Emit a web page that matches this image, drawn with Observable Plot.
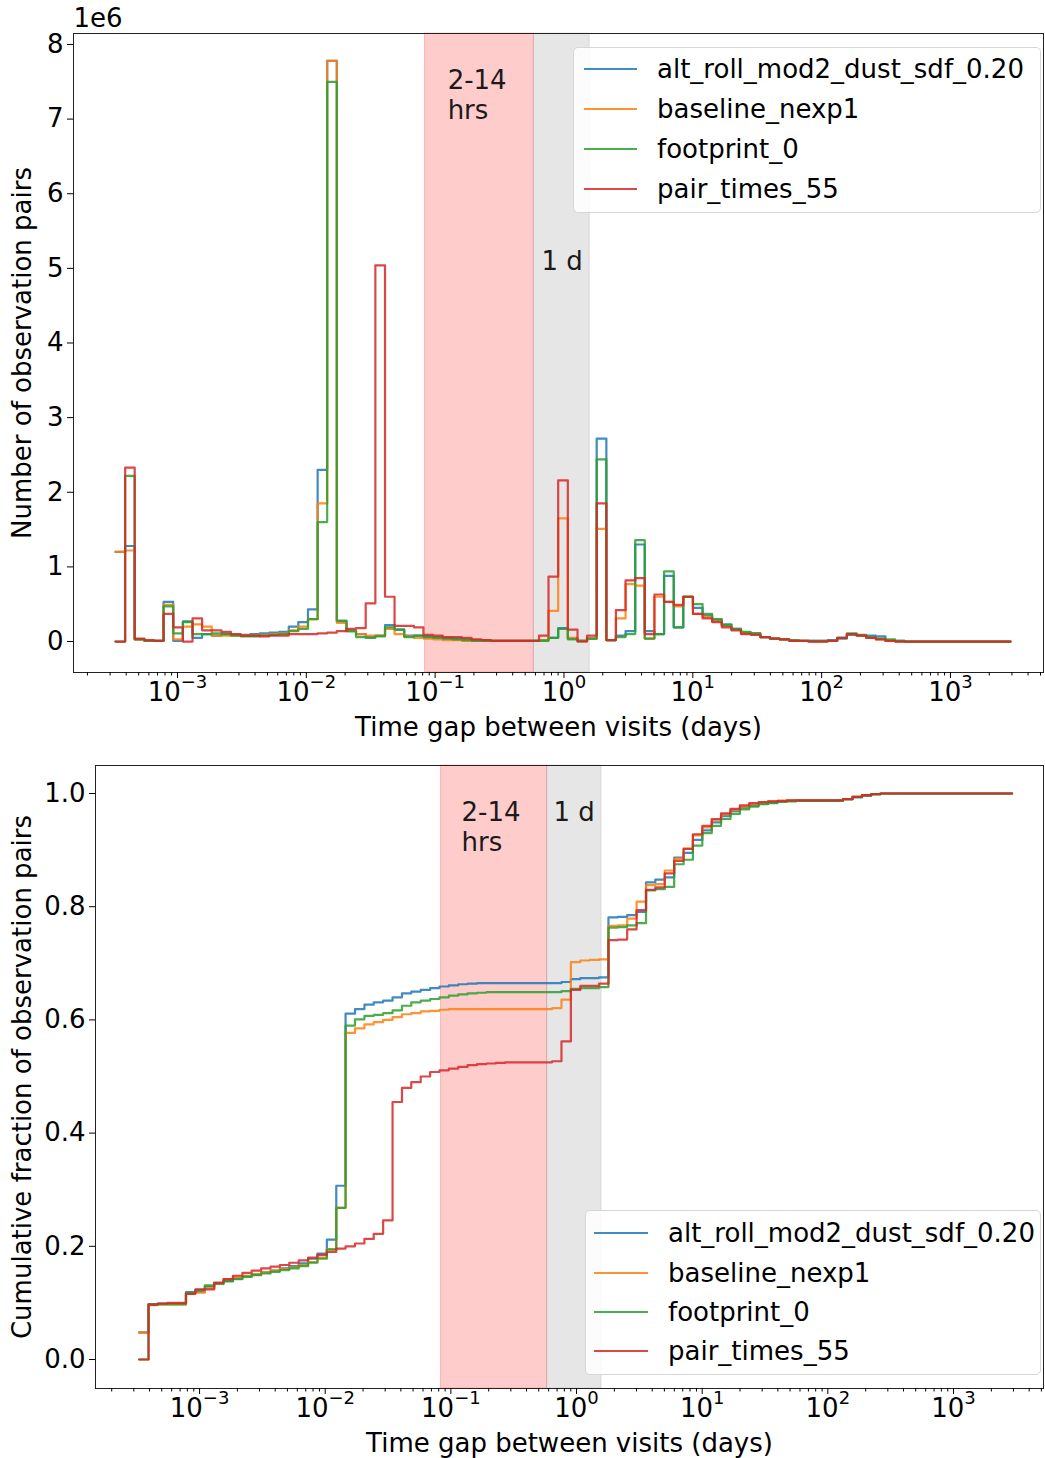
<!DOCTYPE html>
<html><head><meta charset="utf-8">
<script src="https://cdn.jsdelivr.net/npm/d3@7"></script>
<script src="https://cdn.jsdelivr.net/npm/@observablehq/plot@0.6"></script>
<style>
body{margin:0;background:#fff;}
#wrap{position:relative;width:1045px;height:1458px;overflow:hidden;font-family:"DejaVu Sans",sans-serif;background:#fff;}
#wrap svg{display:block;}
.legend{position:absolute;background:rgba(255,255,255,0.85);border:1px solid #d6d6d6;border-radius:5px;box-sizing:border-box;font-size:26px;color:#000;}
.legend .row{position:absolute;left:0;height:40px;display:flex;align-items:center;white-space:nowrap;}
.legend .sw{display:inline-block;height:0;border-top:2px solid;opacity:0.85;}
</style>
</head><body><div id="wrap"></div>
<script>
const seriesNames = ["alt_roll_mod2_dust_sdf_0.20","baseline_nexp1","footprint_0","pair_times_55"];
const seriesColors = ["#1f77b4","#ff7f0e","#2ca02c","#d62728"];

// log10 of histogram bin edges (days)
const binEdgesLog10 = [-3.481,-3.406,-3.332,-3.257,-3.182,-3.108,-3.033,-2.958,-2.883,-2.809,
-2.734,-2.659,-2.585,-2.510,-2.435,-2.361,-2.286,-2.211,-2.136,-2.062,
-1.987,-1.912,-1.838,-1.763,-1.688,-1.614,-1.539,-1.464,-1.389,-1.315,
-1.240,-1.165,-1.091,-1.016,-0.941,-0.867,-0.792,-0.717,-0.642,-0.568,
-0.493,-0.418,-0.344,-0.269,-0.194,-0.120,-0.045,0.030,0.105,0.179,
0.254,0.329,0.403,0.478,0.553,0.627,0.702,0.777,0.852,0.926,
1.001,1.076,1.150,1.225,1.300,1.374,1.449,1.524,1.599,1.673,
1.748,1.823,1.897,1.972,2.047,2.121,2.196,2.271,2.345,2.420,
2.495,2.570,2.644,2.719,2.794,2.868,2.943,3.018,3.092,3.167,
3.242,3.316,3.391,3.466];

// number of observation pairs per bin (millions)
const histAlt = [1.20,1.28,0.03,0.01,0.01,0.53,0.01,0.27,0.05,0.10,
0.08,0.10,0.09,0.09,0.10,0.11,0.12,0.13,0.20,0.26,
0.43,2.30,7.78,0.27,0.14,0.10,0.06,0.08,0.22,0.16,
0.08,0.08,0.07,0.06,0.05,0.04,0.03,0.02,0.02,0.01,
0.01,0.01,0.01,0.01,0.02,0.05,0.18,0.04,0.01,0.04,
2.72,0.02,0.08,0.14,1.30,0.14,0.10,0.88,0.19,0.60,
0.45,0.35,0.29,0.23,0.17,0.12,0.11,0.06,0.04,0.03,
0.01,0.01,0.01,0.01,0.02,0.04,0.09,0.08,0.08,0.07,
0.01,0.01,0,0,0,0,0,0,0,0,
0,0,0];
const histBase = [1.20,1.22,0.03,0.01,0.01,0.49,0.03,0.20,0.23,0.20,
0.08,0.08,0.08,0.08,0.08,0.09,0.10,0.11,0.15,0.20,
0.30,1.85,7.78,0.25,0.15,0.10,0.08,0.08,0.17,0.10,
0.07,0.05,0.04,0.03,0.02,0.02,0.01,0.01,0.01,0.01,
0.01,0.01,0.01,0.01,0.02,0.41,1.65,0.05,0.01,0.04,
1.51,0.02,0.31,0.77,0.75,0.04,0.60,0.53,0.47,0.60,
0.37,0.33,0.27,0.21,0.16,0.11,0.10,0.06,0.04,0.03,
0.01,0.01,0,0,0.01,0.05,0.10,0.08,0.05,0.03,
0.01,0,0,0,0,0,0,0,0,0,
0,0,0];
const histFoot = [0,2.22,0.03,0.01,0.01,0.47,0.11,0.26,0.10,0.10,
0.11,0.10,0.08,0.07,0.07,0.08,0.09,0.10,0.14,0.17,
0.30,1.60,7.50,0.28,0.14,0.06,0.05,0.07,0.19,0.16,
0.06,0.08,0.06,0.05,0.04,0.03,0.02,0.01,0.01,0.01,
0.01,0.01,0.01,0.01,0.01,0.05,0.17,0.03,0.01,0.04,
2.44,0.02,0.06,0.10,1.36,0.04,0.10,0.94,0.19,0.60,
0.50,0.37,0.30,0.22,0.17,0.13,0.11,0.06,0.04,0.03,
0.02,0.01,0.01,0.01,0.01,0.05,0.11,0.09,0.06,0.04,
0.03,0.01,0,0,0,0,0,0,0,0,
0,0,0];
const histPair = [0,2.33,0.04,0.02,0.01,0.37,0.19,0,0.31,0.15,
0.15,0.13,0.10,0.08,0.08,0.07,0.08,0.08,0.10,0.10,
0.10,0.11,0.12,0.14,0.17,0.18,0.51,5.04,0.60,0.21,
0.21,0.19,0.09,0.08,0.06,0.06,0.05,0.03,0.02,0.01,
0.01,0.01,0.01,0.01,0.08,0.87,2.16,0.16,0,0.08,
1.85,0.02,0.42,0.82,0.85,0.10,0.63,0.53,0.49,0.60,
0.37,0.31,0.26,0.19,0.15,0.10,0.09,0.06,0.04,0.03,
0.01,0.01,0,0,0.01,0.05,0.10,0.08,0.05,0.03,
0.01,0,0,0,0,0,0,0,0,0,
0,0,0];

// cumulative fraction of observation pairs per bin
const cumAlt = [0.048,0.098,0.099,0.099,0.099,0.119,0.120,0.129,0.134,0.139,
0.143,0.147,0.150,0.154,0.157,0.161,0.165,0.170,0.178,0.187,
0.212,0.307,0.611,0.619,0.627,0.631,0.634,0.640,0.647,0.650,
0.653,0.656,0.659,0.661,0.663,0.664,0.665,0.665,0.665,0.665,
0.665,0.665,0.665,0.665,0.665,0.667,0.672,0.674,0.674,0.675,
0.781,0.782,0.785,0.791,0.843,0.848,0.852,0.887,0.895,0.918,
0.935,0.949,0.960,0.969,0.975,0.979,0.982,0.984,0.986,0.987,
0.988,0.988,0.988,0.988,0.988,0.990,0.993,0.996,0.999,1.000,
1.000,1.000,1.000,1.000,1.000,1.000,1.000,1.000,1.000,1.000,
1.000,1.000,1.000];
const cumBase = [0.047,0.096,0.097,0.097,0.097,0.116,0.118,0.126,0.135,0.142,
0.145,0.148,0.151,0.154,0.157,0.160,0.163,0.167,0.172,0.180,
0.195,0.268,0.577,0.585,0.592,0.596,0.600,0.605,0.610,0.612,
0.615,0.616,0.618,0.619,0.619,0.619,0.619,0.619,0.619,0.619,
0.619,0.619,0.619,0.619,0.621,0.636,0.702,0.705,0.706,0.707,
0.766,0.767,0.779,0.809,0.838,0.840,0.864,0.885,0.903,0.926,
0.940,0.953,0.963,0.971,0.977,0.981,0.984,0.986,0.987,0.988,
0.988,0.988,0.988,0.988,0.988,0.990,0.994,0.997,0.999,1.000,
1.000,1.000,1.000,1.000,1.000,1.000,1.000,1.000,1.000,1.000,
1.000,1.000,1.000];
const cumFoot = [0.000,0.097,0.098,0.098,0.098,0.118,0.123,0.131,0.134,0.138,
0.142,0.146,0.149,0.152,0.155,0.158,0.161,0.165,0.171,0.178,
0.194,0.268,0.590,0.601,0.607,0.609,0.612,0.617,0.625,0.631,
0.634,0.637,0.640,0.643,0.645,0.647,0.648,0.649,0.649,0.649,
0.649,0.649,0.649,0.649,0.649,0.651,0.655,0.656,0.656,0.658,
0.763,0.764,0.767,0.771,0.829,0.831,0.835,0.875,0.883,0.908,
0.930,0.943,0.955,0.964,0.972,0.977,0.981,0.983,0.985,0.986,
0.987,0.987,0.987,0.987,0.987,0.990,0.994,0.997,0.999,1.000,
1.000,1.000,1.000,1.000,1.000,1.000,1.000,1.000,1.000,1.000,
1.000,1.000,1.000];
const cumPair = [0.000,0.097,0.099,0.100,0.100,0.116,0.124,0.124,0.136,0.142,
0.148,0.153,0.157,0.161,0.164,0.167,0.171,0.175,0.180,0.185,
0.190,0.196,0.200,0.205,0.213,0.222,0.246,0.455,0.480,0.490,
0.500,0.508,0.511,0.514,0.517,0.520,0.522,0.523,0.524,0.525,
0.525,0.525,0.525,0.525,0.527,0.562,0.653,0.660,0.660,0.664,
0.741,0.742,0.760,0.794,0.830,0.834,0.859,0.881,0.902,0.928,
0.943,0.955,0.965,0.973,0.979,0.983,0.985,0.986,0.987,0.988,
0.988,0.988,0.988,0.988,0.988,0.990,0.994,0.997,0.999,1.000,
1.000,1.000,1.000,1.000,1.000,1.000,1.000,1.000,1.000,1.000,
1.000,1.000,1.000];

const xMajorTicks = [0.001,0.01,0.1,1,10,100,1000];
const xMajorExponents = ["\u22123","\u22122","\u22121","0","1","2","3"];
const yTicksTop = [0,1,2,3,4,5,6,7,8];
const yTicksBottom = [0,0.2,0.4,0.6,0.8,1.0];
// shaded windows in days: 2-14 hours, and 14-38 hours around 1 day
const spans = [{x1: 2/24, x2: 14/24, c: "red"}, {x1: 14/24, x2: 38/24, c: "gray"}];
const spanLabelsTop = [{x: 0.125, y: 7.33, t: "2-14\nhrs"}, {x: 0.669, y: 5.105, t: "1 d"}];
const spanLabelsBottom = [{x: 0.1216, y: 0.9417, t: "2-14\nhrs"}, {x: 0.656, y: 0.968, t: "1 d"}];

function steps(vals, name) {
  const out = [];
  for (let i = 0; i < vals.length; i++) {
    out.push({x: Math.pow(10, binEdgesLog10[i]), y: vals[i], s: name});
    out.push({x: Math.pow(10, binEdgesLog10[i + 1]), y: vals[i], s: name});
  }
  return out;
}
const histList = [histAlt, histBase, histFoot, histPair];
const cumList = [cumAlt, cumBase, cumFoot, cumPair];
const topData = histList.flatMap((v, i) => steps(v, seriesNames[i]));
const botData = cumList.flatMap((v, i) => steps(v, seriesNames[i]));
const tickLabelData = xMajorTicks.map((v, i) => ({x: v, e: xMajorExponents[i]}));

function minorTicksFor(domain) {
  const t = [];
  for (let k = -5; k <= 4; k++) for (let m = 2; m <= 9; m++) {
    const v = m * Math.pow(10, k);
    if (v > domain[0] && v < domain[1]) t.push(v);
  }
  return t;
}
const style = {fontFamily: '"DejaVu Sans", sans-serif', fontSize: "26px", background: "#fff", color: "#000", overflow: "visible"};
const colorScale = {domain: seriesNames, range: seriesColors};

function makePlot(o) {
  return Plot.plot({
    width: 1045, height: o.height,
    marginLeft: o.ml, marginRight: 2, marginTop: o.mt, marginBottom: o.mb,
    style,
    x: {type: "log", domain: o.xd},
    y: {domain: o.yd},
    color: colorScale,
    marks: [
      Plot.rect(spans, {x1: "x1", x2: "x2", fill: "c", fillOpacity: 0.2, stroke: "c", strokeOpacity: 0.2, strokeWidth: 1}),
      Plot.line(o.data, {x: "x", y: "y", z: "s", stroke: "s", strokeWidth: 2.2, strokeOpacity: 0.85, curve: "linear"}),
      Plot.text(o.labels, {x: "x", y: "y", text: "t", textAnchor: "start", lineAnchor: "middle", lineHeight: 1.17, fill: "#1a1a1a"}),
      Plot.frame({stroke: "#222", strokeWidth: 1}),
      Plot.axisX({ticks: xMajorTicks, tickFormat: () => "", tickSize: 6, label: null}),
      Plot.axisX({ticks: minorTicksFor(o.xd), tickFormat: () => "", tickSize: 3.5, label: null}),
      ...tickLabelData.map(d => Plot.text([d], {x: "x", frameAnchor: "bottom", text: () => "10", textAnchor: "end", lineAnchor: "middle", dy: 20, dx: d.e.length > 1 ? 3.3 : 10.8, fontSize: 26})),
      ...tickLabelData.map(d => Plot.text([d], {x: "x", frameAnchor: "bottom", text: "e", textAnchor: "start", lineAnchor: "middle", dy: 10, dx: d.e.length > 1 ? 3.3 : 10.8, fontSize: 18})),
      Plot.axisY({ticks: o.yt, tickFormat: o.yf, tickSize: 6, tickPadding: 4, label: null}),
      Plot.text([o.ylabel], {frameAnchor: "left", textAnchor: "middle", lineAnchor: "middle", rotate: -90, dx: -(o.ml - 22)}),
      Plot.text(["Time gap between visits (days)"], {frameAnchor: "bottom", textAnchor: "middle", lineAnchor: "middle", dy: 55}),
      ...(o.extra || [])
    ]
  });
}

const topPlot = makePlot({
  height: 745, ml: 73, mt: 33, mb: 73,
  xd: [Math.pow(10, -3.807), Math.pow(10, 3.722)], yd: [-0.415, 8.147],
  data: topData, labels: spanLabelsTop, yt: yTicksTop, yf: d3.format("d"),
  ylabel: "Number of observation pairs",
  extra: [Plot.text(["1e6"], {frameAnchor: "top-left", textAnchor: "start", lineAnchor: "middle", dy: -15})]
});
const botPlot = makePlot({
  height: 713, ml: 95, mt: 20, mb: 70,
  xd: [Math.pow(10, -3.828), Math.pow(10, 3.716)], yd: [-0.0512, 1.0495],
  data: botData, labels: spanLabelsBottom, yt: yTicksBottom, yf: d3.format(".1f"),
  ylabel: "Cumulative fraction of observation pairs"
});

const wrap = document.getElementById("wrap");
wrap.appendChild(topPlot);
wrap.appendChild(botPlot);

function addLegend(left, top, width, height, rowTops, swLeft, swWidth, textLeft) {
  const box = document.createElement("div");
  box.className = "legend";
  Object.assign(box.style, {left: left + "px", top: top + "px", width: width + "px", height: height + "px"});
  seriesNames.forEach((name, i) => {
    const row = document.createElement("div");
    row.className = "row";
    row.style.top = rowTops[i] + "px";
    const sw = document.createElement("span");
    sw.className = "sw";
    Object.assign(sw.style, {borderTopColor: seriesColors[i], width: swWidth + "px", marginLeft: swLeft + "px", marginRight: (textLeft - swLeft - swWidth) + "px"});
    const tx = document.createElement("span");
    tx.textContent = name;
    row.appendChild(sw);
    row.appendChild(tx);
    box.appendChild(row);
  });
  wrap.appendChild(box);
}
addLegend(573, 47, 468, 166, [1, 41, 81, 121], 10, 53, 83);
addLegend(585, 1210, 456, 165, [2, 42, 81, 120], 8, 54, 82);
</script></body></html>
